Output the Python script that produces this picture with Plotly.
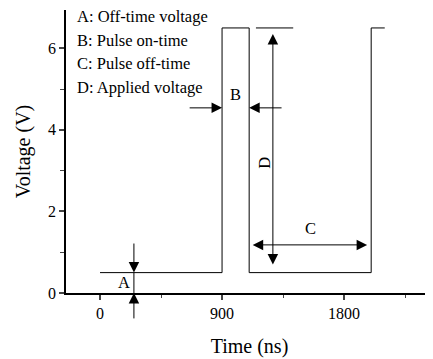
import plotly.graph_objects as go

# Waveform data
time_ns = [0, 900, 900, 1100, 1100, 2000, 2000, 2100]
voltage_v = [0.5, 0.5, 6.5, 6.5, 0.5, 0.5, 6.5, 6.5]

# Reference line for D (top level)
d_ref_x = [1150, 1425]
d_ref_y = [6.5, 6.5]

x_ticks = [0, 900, 1800]
x_minor = [450, 1350, 2250]
y_ticks = [0, 2, 4, 6]
y_minor = [1, 3, 5]

legend_lines = ["A: Off-time voltage", "B: Pulse on-time", "C: Pulse off-time", "D: Applied voltage"]
legend_x = -185
legend_y = [6.77, 6.19, 5.62, 5.04]

# Annotation markers
a_x, a_low, a_top, a_tail_up, a_tail_dn = 250, 0.5, 0.0, 1.25, -0.66
b_y, b_left_tail, b_rise, b_fall, b_right_tail = 4.54, 650, 900, 1100, 1350
c_y, c_start, c_end = 1.18, 1115, 1970
d_x, d_bot, d_top = 1275, 0.66, 6.35
labels = [("A", 177, 0.25, 0), ("B", 1000, 4.86, 0), ("C", 1550, 1.57, 0), ("D", 1215, 3.19, -90)]

FONT = "Liberation Serif"
fig = go.Figure()
fig.add_trace(go.Scatter(x=time_ns, y=voltage_v, mode="lines",
                         line=dict(color="black", width=1), showlegend=False))
fig.add_trace(go.Scatter(x=d_ref_x, y=d_ref_y, mode="lines",
                         line=dict(color="black", width=1), showlegend=False))
fig.add_trace(go.Scatter(x=[a_x, a_x], y=[a_top, a_low], mode="lines",
                         line=dict(color="black", width=1), showlegend=False))

ann = []
def arrow(x, y, ax, ay, side="end"):
    ann.append(dict(x=x, y=y, ax=ax, ay=ay, xref="x", yref="y", axref="x", ayref="y",
                    text="", showarrow=True, arrowhead=2, arrowsize=2.1, arrowwidth=1,
                    arrowcolor="black", arrowside=side))

arrow(a_x, a_low, a_x, a_tail_up)
arrow(a_x, a_top, a_x, a_tail_dn)
arrow(b_rise, b_y, b_left_tail, b_y)
arrow(b_fall, b_y, b_right_tail, b_y)
arrow(c_end, c_y, c_start, c_y, "end+start")
arrow(d_x, d_top, d_x, d_bot, "end+start")

for t, x, y, ang in labels:
    ann.append(dict(x=x, y=y, xref="x", yref="y", text=t, showarrow=False,
                    textangle=ang, font=dict(family=FONT, size=16.5, color="black")))
for t, y in zip(legend_lines, legend_y):
    ann.append(dict(x=legend_x, y=y, xref="x", yref="y", text=t, showarrow=False,
                    xanchor="left", font=dict(family=FONT, size=16.5, color="black")))

fig.update_layout(
    width=425, height=351,
    margin=dict(l=58, r=0, t=2, b=66),
    paper_bgcolor="white", plot_bgcolor="white",
    font=dict(family=FONT, size=16, color="black"),
    annotations=ann,
    xaxis=dict(range=[-251, 2456], tickvals=x_ticks, ticks="outside", ticklen=5,
               tickwidth=1.5, showline=True, linewidth=1.5, linecolor="black",
               showgrid=False, zeroline=False, automargin=False,
               minor=dict(tickvals=x_minor, ticks="outside", ticklen=3, tickwidth=1.2),
               title=dict(text="Time (ns)", font=dict(family=FONT, size=20), standoff=18),
               tickfont=dict(family=FONT, size=16)),
    yaxis=dict(range=[0, 6.94], tickvals=y_ticks, ticks="outside", ticklen=5,
               tickwidth=1.5, showline=True, linewidth=1.5, linecolor="black",
               showgrid=False, zeroline=False, automargin=False,
               minor=dict(tickvals=y_minor, ticks="outside", ticklen=4, tickwidth=1.2),
               title=dict(text="Voltage (V)", font=dict(family=FONT, size=20), standoff=12),
               tickfont=dict(family=FONT, size=16)),
)
fig.write_html("out.html")
